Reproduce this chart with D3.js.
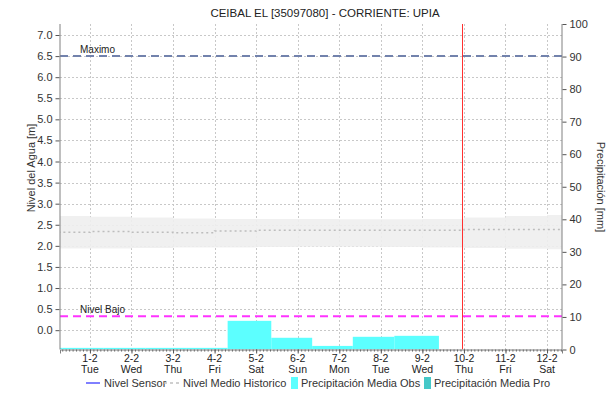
<!DOCTYPE html>
<html><head><meta charset="utf-8">
<script src="https://cdn.jsdelivr.net/npm/d3@7"></script>
<style>
body{margin:0;background:#fff;}
text{font-family:"Liberation Sans",Arial,sans-serif;}
</style></head>
<body><svg id="c" width="615" height="404"></svg>
<script>
// ---- data ----
const title = "CEIBAL EL [35097080] - CORRIENTE: UPIA";
const dayTicks = ["2022-02-01","2022-02-02","2022-02-03","2022-02-04","2022-02-05","2022-02-06","2022-02-07","2022-02-08","2022-02-09","2022-02-10","2022-02-11","2022-02-12"];
const dayNames = ["Tue","Wed","Thu","Fri","Sat","Sun","Mon","Tue","Wed","Thu","Fri","Sat"];
const xStart = "2022-01-31T06:43:00Z", xEnd = "2022-02-12T08:38:00Z";
const levelTicks = [0,0.5,1,1.5,2,2.5,3,3.5,4,4.5,5,5.5,6,6.5,7];
const levelDomain = [-0.458, 7.261];
const precipTicks = [0,10,20,30,40,50,60,70,80,90,100];
const precipDomain = [0,100];
// precipitation observed: interval edges and values (mm)
const precipEdges = ["2022-01-30T08:00:00Z","2022-01-31T08:00:00Z","2022-02-01T08:00:00Z","2022-02-02T08:00:00Z","2022-02-03T08:00:00Z","2022-02-04T07:32:00Z","2022-02-05T08:44:00Z","2022-02-06T08:21:00Z","2022-02-07T07:49:00Z","2022-02-08T07:48:00Z","2022-02-09T09:33:00Z"];
const precipObs = [0.5,0.5,0.5,0.5,0.5,8.8,3.6,1.1,3.9,4.2];
// historic level (daily, from Jan 31)
const histDays = ["2022-01-31","2022-02-01","2022-02-02","2022-02-03","2022-02-04","2022-02-05","2022-02-06","2022-02-07","2022-02-08","2022-02-09","2022-02-10","2022-02-11","2022-02-12","2022-02-13"];
const histMean = [2.32,2.34,2.32,2.31,2.35,2.37,2.37,2.37,2.37,2.37,2.39,2.39,2.39,2.39];
const histMax  = [2.705,2.69,2.67,2.65,2.635,2.635,2.635,2.63,2.63,2.635,2.67,2.71,2.73,2.73];
const histMin  = [1.94,1.94,1.95,1.96,1.96,1.97,1.98,1.98,1.97,1.96,1.95,1.93,1.92,1.92];
const sensorLevel = []; // no sensor data in view
const levelMax = 6.5, levelLow = 0.33;
const nowTime = "2022-02-09T23:07:00Z";

// ---- chart ----
const svg = d3.select("#c");
const L=60, R=562, T=24, B=349.5;
const x = d3.scaleUtc().domain([new Date(xStart), new Date(xEnd)]).range([L,R]);
const yL = d3.scaleLinear().domain(levelDomain).range([B,T]);
const yR = d3.scaleLinear().domain(precipDomain).range([B,T]);
const tickDates = dayTicks.map(d=>new Date(d+"T00:00:00Z"));

svg.append("defs").append("clipPath").attr("id","clip").append("rect")
  .attr("x",L).attr("y",T).attr("width",R-L).attr("height",B-T);

const grid = svg.append("g");
levelTicks.forEach(v=>grid.append("line").attr("x1",L).attr("x2",R).attr("y1",Math.round(yL(v))+0.5).attr("y2",Math.round(yL(v))+0.5)
  .attr("stroke","#c8c8c8").attr("stroke-dasharray","2,2"));
tickDates.forEach(d=>grid.append("line").attr("y1",T).attr("y2",B).attr("x1",Math.round(x(d))+0.5).attr("x2",Math.round(x(d))+0.5)
  .attr("stroke","#c8c8c8").attr("stroke-dasharray","2,2"));

const plot = svg.append("g").attr("clip-path","url(#clip)");
const hist = histDays.map((d,i)=>({t:new Date(d+"T00:00:00Z"),mean:histMean[i],max:histMax[i],min:histMin[i]}));
plot.append("path").datum(hist).attr("fill","#eeeeee").attr("opacity",0.9)
  .attr("d",d3.area().curve(d3.curveStepAfter).x(d=>x(d.t)).y0(d=>yL(d.min)).y1(d=>yL(d.max)));
plot.append("path").datum(hist).attr("fill","none").attr("stroke","#bdbdbd").attr("stroke-width",1.5).attr("stroke-dasharray","2,3")
  .attr("d",d3.line().curve(d3.curveStepAfter).x(d=>x(d.t)).y(d=>yL(d.mean)));

plot.selectAll("rect.p").data(precipObs).enter().append("rect")
  .attr("x",(v,i)=>x(new Date(precipEdges[i])))
  .attr("width",(v,i)=>x(new Date(precipEdges[i+1]))-x(new Date(precipEdges[i])))
  .attr("y",v=>yR(v)).attr("height",v=>B-yR(v)).attr("fill","#5cffff");

plot.append("path").datum(sensorLevel).attr("fill","none").attr("stroke","#0000ff")
  .attr("d",d3.line().x(d=>x(new Date(d.t))).y(d=>yL(d.v)));

// threshold lines
plot.append("line").attr("x1",L).attr("x2",R).attr("y1",yL(levelMax)).attr("y2",yL(levelMax))
  .attr("stroke","#7282ac").attr("stroke-width",2).attr("stroke-dasharray","8,5");
plot.append("line").attr("x1",L).attr("x2",R).attr("y1",yL(levelLow)).attr("y2",yL(levelLow))
  .attr("stroke","#ff33ff").attr("stroke-width",2).attr("stroke-dasharray","8,5");
svg.append("text").attr("x",80).attr("y",yL(levelMax)-3).attr("font-size",10).attr("fill","#222").text("Maximo");
svg.append("text").attr("x",80).attr("y",yL(levelLow)-3).attr("font-size",10).attr("fill","#222").text("Nivel Bajo");
// now line
plot.append("line").attr("x1",Math.round(x(new Date(nowTime)))+0.5).attr("x2",Math.round(x(new Date(nowTime)))+0.5)
  .attr("y1",T).attr("y2",B).attr("stroke","#ff3030").attr("stroke-width",1);

// axes
const axL = svg.append("g").attr("transform",`translate(${L-0.5},0)`)
  .call(d3.axisLeft(yL).tickValues(levelTicks).tickFormat(d3.format(".1f")).tickSize(4).tickPadding(3));
const axR = svg.append("g").attr("transform",`translate(${R+0.5},0)`)
  .call(d3.axisRight(yR).tickValues(precipTicks).tickSize(4).tickPadding(3));
// minor ticks on bottom
const hours = d3.utcHour.every(2).range(new Date(xStart), new Date(xEnd));
const axBm = svg.append("g").attr("transform",`translate(0,${B})`)
  .call(d3.axisBottom(x).tickValues(hours).tickSize(2).tickFormat(""));
const axB = svg.append("g").attr("transform",`translate(0,${B})`)
  .call(d3.axisBottom(x).tickValues(tickDates).tickSize(4).tickFormat(""));
[axL,axR,axB,axBm].forEach(a=>{a.selectAll("path").attr("stroke","#808080");a.selectAll("line").attr("stroke","#555");
  a.selectAll("text").attr("font-size",11).attr("fill","#333").attr("font-family","Liberation Sans, Arial, sans-serif");});
axBm.select("path").remove();
axL.select("path").attr("d",`M0.5,${T}V${B}`);
axR.select("path").attr("d",`M-0.5,${T}V${B}`);
const xl = svg.append("g");
tickDates.forEach((d,i)=>{
  const lab = d.getUTCDate()+"-"+(d.getUTCMonth()+1);
  xl.append("text").attr("x",x(d)).attr("y",362).attr("text-anchor","middle").attr("font-size",10.5).attr("fill","#222").text(lab);
  xl.append("text").attr("x",x(d)).attr("y",373).attr("text-anchor","middle").attr("font-size",10.5).attr("fill","#222").text(dayNames[i]);
});

// titles
svg.append("text").attr("x",325).attr("y",17).attr("text-anchor","middle").attr("font-size",11.5).attr("fill","#222").text(title);
svg.append("text").attr("transform","translate(35,168) rotate(-90)").attr("text-anchor","middle").attr("font-size",11).attr("fill","#333").text("Nivel del Agua [m]");
svg.append("text").attr("transform","translate(597,187) rotate(90)").attr("text-anchor","middle").attr("font-size",11).attr("fill","#333").text("Precipitación [mm]");

// legend
const lg = svg.append("g").attr("font-size",11);
const ly = 387;
lg.append("line").attr("x1",86).attr("x2",100).attr("y1",ly-4).attr("y2",ly-4).attr("stroke","#0000ff").attr("stroke-width",1);
lg.append("text").attr("x",104).attr("y",ly).attr("fill","#333").text("Nivel Sensor");
lg.append("line").attr("x1",164).attr("x2",179).attr("y1",ly-4).attr("y2",ly-4).attr("stroke","#c0c0c0").attr("stroke-width",1.5).attr("stroke-dasharray","3,3");
lg.append("text").attr("x",183).attr("y",ly).attr("fill","#333").text("Nivel Medio Historico");
lg.append("rect").attr("x",291).attr("y",ly-10).attr("width",7).attr("height",12).attr("fill","#5cffff");
lg.append("text").attr("x",301).attr("y",ly).attr("fill","#333").text("Precipitación Media Obs");
lg.append("rect").attr("x",424).attr("y",ly-10).attr("width",7).attr("height",12).attr("fill","#45c8c8");
lg.append("text").attr("x",434).attr("y",ly).attr("fill","#333").text("Precipitación Media Pro");
</script></body></html>
